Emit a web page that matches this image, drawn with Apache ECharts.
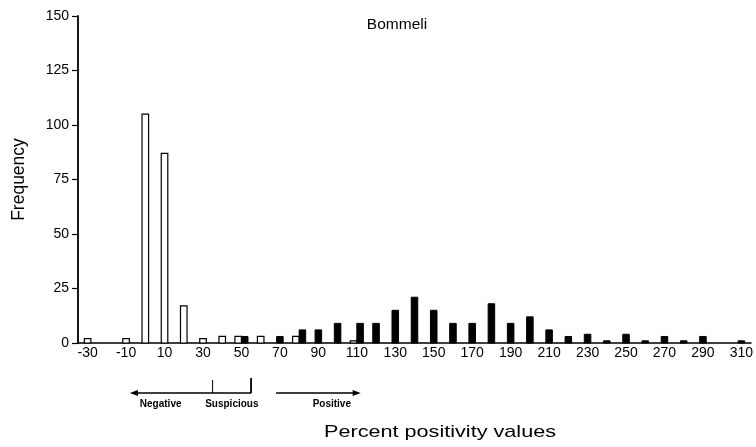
<!DOCTYPE html>
<html>
<head>
<meta charset="utf-8">
<script src="https://cdn.jsdelivr.net/npm/echarts@6/dist/echarts.min.js"></script>
<style>html,body{margin:0;padding:0;background:#fff;}#c{width:756px;height:447px;}</style>
</head>
<body>
<div id="c"></div>
<script>
const categories = ['-30','-20','-10','0','10','20','30','40','50','60','70','80','90','100','110','120','130','140','150','160','170','180','190','200','210','220','230','240','250','260','270','280','290','300','310'];
const negativeValues = [2,0,2,105,87,17,2,3,3,3,0,3,0,0,1,0,0,0,0,0,0,0,0,0,0,0,0,0,0,0,0,0,0,0,0];
const positiveValues = [0,0,0,0,0,0,0,0,3,0,3,6,6,9,9,9,15,21,15,9,9,18,9,12,6,3,4,1,4,1,3,1,3,0,1];
const yTicks = [0,25,50,75,100,125,150];
const cutoffs = [35, 55];

const FONT = '"Liberation Sans", Arial, sans-serif';
const chart = echarts.init(document.getElementById('c'));

const data = categories.map((c, i) => [i, negativeValues[i], positiveValues[i]]);

function renderItem(params, api) {
  const idx = api.value(0);
  const open = api.value(1);
  const filled = api.value(2);
  const base = api.coord([idx, 0]);
  const slot = api.size([1, 0])[0];
  const w = slot * 0.34;
  const children = [];
  const both = open > 0 && filled > 0;
  if (open > 0) {
    const top = api.coord([idx, open])[1];
    const x = both ? base[0] - w : base[0] - w / 2;
    children.push({type: 'rect', shape: {x: x, y: top, width: w, height: base[1] - top},
      style: {fill: '#fff', stroke: '#000', lineWidth: 1.2}});
  }
  if (filled > 0) {
    const top = api.coord([idx, filled])[1];
    const x = both ? base[0] : base[0] - w / 2;
    children.push({type: 'rect', shape: {x: x, y: top, width: w, height: base[1] - top},
      style: {fill: '#000', stroke: '#000', lineWidth: 1}});
  }
  return {type: 'group', children: children};
}

chart.setOption({
  animation: false,
  backgroundColor: '#fff',
  title: {
    text: 'Bommeli', left: 392, top: 12, textAlign: 'center',
    textStyle: {fontFamily: FONT, fontSize: 15.5, fontWeight: 'normal', color: '#000'}
  },
  grid: {left: 78, right: 0, top: 16, bottom: 104, containLabel: false},
  xAxis: {
    type: 'category', data: categories, boundaryGap: true,
    axisLine: {lineStyle: {color: '#000', width: 1.5}},
    axisTick: {interval: 0, length: 5, lineStyle: {color: '#000', width: 1.2}},
    axisLabel: {interval: 1, margin: 3, fontFamily: FONT, fontSize: 14, color: '#000'},
    splitLine: {show: false}
  },
  yAxis: {
    type: 'value', min: 0, max: 150, interval: 25,
    name: 'Frequency', nameLocation: 'middle', nameGap: 50, nameRotate: 90,
    nameTextStyle: {fontFamily: FONT, fontSize: 17.5, color: '#000'},
    axisLine: {show: true, lineStyle: {color: '#000', width: 1.8}},
    axisTick: {show: true, length: 6, lineStyle: {color: '#000', width: 1.2}},
    axisLabel: {margin: 9, fontFamily: FONT, fontSize: 14, color: '#000',
      formatter: v => yTicks.includes(v) ? String(v) : ''},
    splitLine: {show: false}
  },
  series: [{
    type: 'custom', renderItem: renderItem, data: data,
    encode: {x: 0, y: [1, 2]}, clip: false
  }]
});

// Annotation for cut-off ranges, positioned via the x-axis scale
function xOfValue(v) {
  const i = (v + 30) / 10;
  const i0 = Math.floor(i), f = i - i0;
  const p0 = chart.convertToPixel({xAxisIndex: 0}, i0);
  const p1 = chart.convertToPixel({xAxisIndex: 0}, i0 + 1);
  return p0 + (p1 - p0) * f;
}
const xName = 'Percent positivity values';
const nameFont = '17px "Liberation Sans", Arial, sans-serif';
const ctx = document.createElement('canvas').getContext('2d');
ctx.font = nameFont;
const nameW = ctx.measureText(xName).width;
const nameScale = 232 / nameW;

const yLine = 393;
const xLeft = xOfValue(-8), xC1 = xOfValue(cutoffs[0]), xC2 = xOfValue(cutoffs[1]);
const xGap = xOfValue(68), xRight = xOfValue(112);
const lbl = {fontFamily: FONT, fontSize: 10, fontWeight: 'bold', fill: '#000', align: 'center', verticalAlign: 'middle'};
chart.setOption({
  graphic: [
    {type: 'line', shape: {x1: xLeft + 6, y1: yLine, x2: xC2, y2: yLine}, style: {stroke: '#000', lineWidth: 1.3}},
    {type: 'line', shape: {x1: xGap, y1: yLine, x2: xRight - 6, y2: yLine}, style: {stroke: '#000', lineWidth: 1.3}},
    {type: 'polygon', shape: {points: [[xLeft, yLine], [xLeft + 8, yLine - 3], [xLeft + 8, yLine + 3]]}, style: {fill: '#000'}},
    {type: 'polygon', shape: {points: [[xRight, yLine], [xRight - 8, yLine - 3], [xRight - 8, yLine + 3]]}, style: {fill: '#000'}},
    {type: 'line', shape: {x1: xC1, y1: yLine - 13, x2: xC1, y2: yLine}, style: {stroke: '#000', lineWidth: 1}},
    {type: 'line', shape: {x1: xC2, y1: yLine - 15, x2: xC2, y2: yLine}, style: {stroke: '#000', lineWidth: 1.8}},
    {type: 'text', x: xOfValue(8), y: 404, style: Object.assign({text: 'Negative'}, lbl)},
    {type: 'text', x: (xC1 + xC2) / 2, y: 404, style: Object.assign({text: 'Suspicious'}, lbl)},
    {type: 'text', x: xOfValue(97), y: 404, style: Object.assign({text: 'Positive'}, lbl)},
    {type: 'text', x: 440, y: 432, scaleX: nameScale, originX: 0, originY: 0,
      style: {text: xName, fontFamily: FONT, fontSize: 17, fill: '#000', align: 'center', verticalAlign: 'middle'}}
  ]
});
</script>
</body>
</html>
